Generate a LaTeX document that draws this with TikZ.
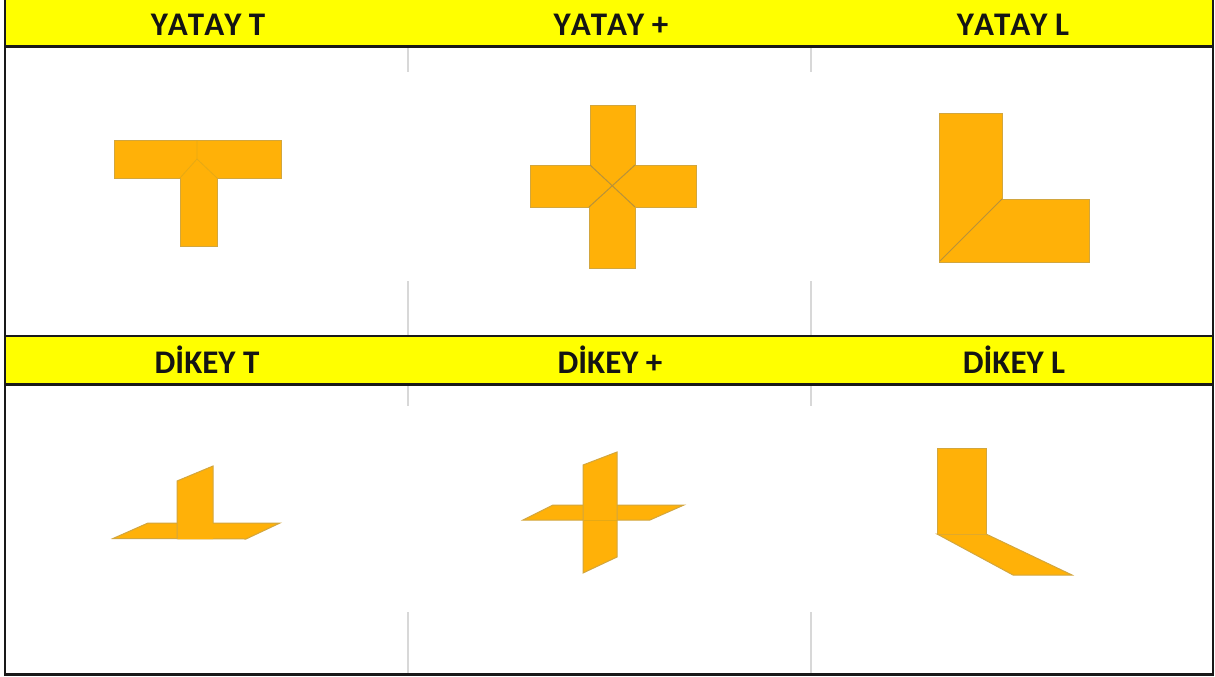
\documentclass[tikz,border=0pt]{standalone}
\usepackage{fontspec}
\setmainfont{Carlito}[BoldFeatures={Kerning=Off}]
\definecolor{plate}{HTML}{FFB108}
\definecolor{plateedge}{HTML}{D2A63E}
\definecolor{softseam}{HTML}{E6A915}
\definecolor{seam}{HTML}{B8923A}
\definecolor{headbar}{HTML}{FFFF00}
\definecolor{gridgray}{HTML}{D8D8D8}
\tikzset{
  plateshape/.style={fill=plate,draw=plateedge,line width=1pt,line join=miter},
  seamline/.style={draw=softseam,line width=.8pt},
  darkseam/.style={draw=seam,line width=1pt},
  headerband/.style={fill=headbar,draw=none},
  frameline/.style={draw=black!90,line width=2.6pt},
  gridline/.style={draw=gridgray,line width=1.5pt},
  headtext/.style={font=\fontsize{33}{36}\selectfont\bfseries,anchor=base,inner sep=0pt,text=black!92}
}
\begin{document}
\begin{tikzpicture}[x=1pt,y=-1pt]
\useasboundingbox (0,0) rectangle (1215,677);
\fill[white] (0,0) rectangle (1215,677);
% header bands
\fill[headerband] (5,0) rectangle (1213,46);
\fill[headerband] (5,337) rectangle (1213,384);
% grid stubs
\foreach \gx in {408,811}{
  \draw[gridline] (\gx,47) -- (\gx,72);
  \draw[gridline] (\gx,281) -- (\gx,335);
  \draw[gridline] (\gx,385) -- (\gx,406);
  \draw[gridline] (\gx,612) -- (\gx,673);
}
% frame
\draw[frameline] (5,0) -- (5,674.5) -- (1213,674.5) -- (1213,0);
\draw[frameline] (5,46.5) -- (1213,46.5);
\draw[frameline] (5,336) -- (1213,336);
\draw[frameline] (5,384.5) -- (1213,384.5);
% labels
\node[headtext] (h1) at (208,35.5) {YATAY T};
\node[headtext] (h2) at (611,35.5) {YATAY +};
\node[headtext] (h3) at (1013,35.5) {YATAY L};
\node[headtext] (h4) at (207,373.5) {DİKEY T};
\node[headtext] (h5) at (610,373.5) {DİKEY +};
\node[headtext] (h6) at (1014,373.5) {DİKEY L};
% Yatay T
\draw[plateshape] (114,140) -- (281,140) -- (281,178) -- (217,178) -- (217,246) -- (180,246) -- (180,178) -- (114,178) -- cycle;
\draw[seamline] (197,140) -- (197,159) (180,178) -- (197,159) -- (217,178);
% Yatay +
\draw[plateshape] (590,105) -- (635,105) -- (635,165) -- (696,165) -- (696,207) -- (635,207) -- (635,268) -- (589,268) -- (589,207) -- (530,207) -- (530,165) -- (590,165) -- cycle;
\draw[darkseam] (590,165) -- (635,207) (635,165) -- (589,207);
% Yatay L
\draw[plateshape] (939,113) -- (1002,113) -- (1002,199) -- (1089,199) -- (1089,262) -- (939,262) -- cycle;
\draw[darkseam] (940,261) -- (1002,199);
% Dikey T
\draw[plateshape] (113,538.5) -- (148,523) -- (280,523) -- (246,539) -- cycle;
\fill[plate] (177,481) -- (213,466) -- (213,539) -- (177,539) -- cycle;
\draw[plateedge,line width=1pt] (177,539) -- (177,481) -- (213,466) -- (213,523);
% Dikey +
\draw[plateshape] (523,520) -- (553,505) -- (684,505) -- (650,520) -- cycle;
\fill[plate] (583,465) -- (617,452) -- (617,557) -- (583,573) -- cycle;
\draw[plateedge,line width=1pt] (583,465) -- (617,452) -- (617,557) -- (583,573) -- cycle;
\draw[softseam,line width=.8pt] (584,520) -- (617,520);
% Dikey L
\draw[plateshape] (937,534) -- (986,534) -- (1072,575) -- (1013,575) -- cycle;
\fill[plate] (937,448) -- (986,448) -- (986,534) -- (937,534) -- cycle;
\draw[plateedge,line width=1pt] (937,534) -- (937,448) -- (986,448) -- (986,534);
\end{tikzpicture}
\end{document}
